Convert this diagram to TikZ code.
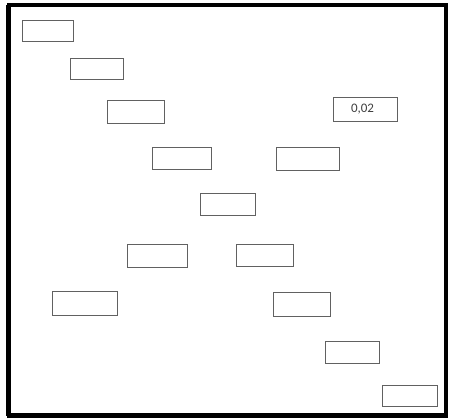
\documentclass[tikz,border=0pt]{standalone}
\usepackage{fontspec}
\setmainfont{Carlito}
\begin{document}
\begin{tikzpicture}[x=1pt,y=-1pt, font=\fontsize{13}{15}\selectfont, line join=miter,
	cell/.style={draw=black!62, line width=1.7pt, inner sep=0pt, fill=white}]
	\useasboundingbox (0,0) rectangle (449,419);
	\path
	(9,5) coordinate (TL)
	(446,415.5) coordinate (BR)
	;
	\draw[line width=4.5pt] (TL) rectangle (BR);
	\draw[line width=2pt] ([xshift=-2.5pt]TL) -- ([xshift=-2.5pt]TL|-BR);
	\foreach \p/\x/\y/\w/\h in{b1/48/31/51/21,b2/97/69/53/21,b3/136/112/57/23,b4/182/158.5/59/22,
		b5/228/204.5/55/22,b6/308/159/63/23,b8/157.5/256/60/23,b9/85/303.5/65/24,
		b10/265/255.5/57/22,b11/302/304.5/57/24,b12/352.5/352.5/54/22,b13/410/396/55/21}
	\node[cell,minimum width=\w,minimum height=\h] (\p) at (\x,\y) {};
	\node[cell,minimum width=64,minimum height=24,text=black!75] (b7) at (365.5,109.5) {\raisebox{-1.5pt}{\kern-6pt0,02}};
\end{tikzpicture}
\end{document}
